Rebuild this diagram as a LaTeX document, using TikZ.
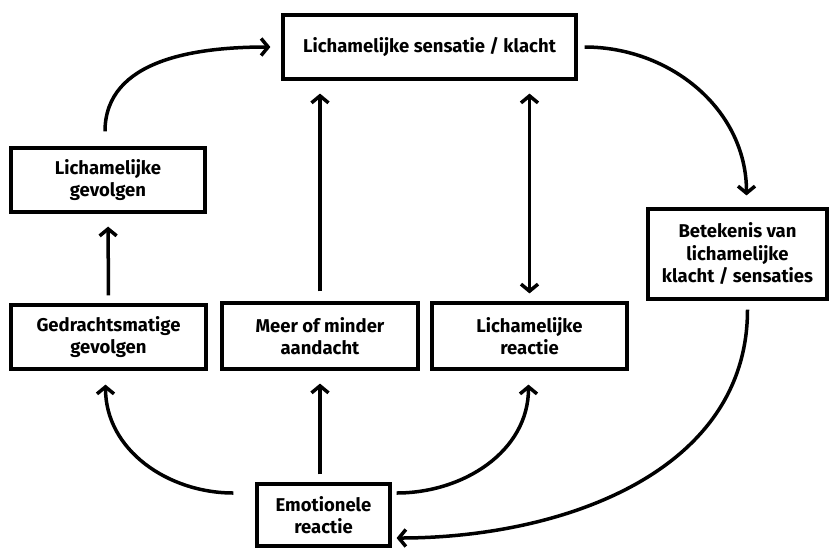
\documentclass[tikz,border=0pt]{standalone}
\usepackage{fontspec}
\setmainfont{Fira Sans Bold}
\usetikzlibrary{arrows.meta}
\begin{document}
\begin{tikzpicture}[x=1pt,y=-1pt,
  box/.style={draw,line width=3.2pt,align=center,inner sep=0pt,
    font=\fontsize{18.5}{22.5}\selectfont},
  tip/.tip={Straight Barb[length=7pt,width=17pt]},
  arr/.style={line width=3.5pt,-tip},
  darr/.style={line width=3.5pt,tip-tip}]
\useasboundingbox (0,0) rectangle (835,547);
\node[box,minimum width=293pt,minimum height=64pt] (top) at (429.5,47) {Lichamelijke sensatie / klacht};
\node[box,minimum width=194pt,minimum height=64pt] (lg) at (108,180) {Lichamelijke\\gevolgen};
\node[box,minimum width=195pt,minimum height=64pt] (gg) at (108.5,337) {Gedrachtsmatige\\gevolgen};
\node[box,minimum width=196pt,minimum height=66pt] (mma) at (320,336) {Meer of minder\\aandacht};
\node[box,minimum width=195pt,minimum height=66pt] (lr) at (529.5,336) {Lichamelijke\\reactie};
\node[box,minimum width=179pt,minimum height=90pt] (bet) at (737.5,254) {Betekenis van\\lichamelijke\\klacht / sensaties};
\node[box,minimum width=133pt,minimum height=62pt] (emo) at (323.5,515) {Emotionele\\reactie};

\draw[arr] ([xshift=-3pt,yshift=15pt]lg.north) to[out=90,in=180] ([xshift=-11pt]top.west);
\draw[arr,shorten <=8pt,shorten >=13pt] (gg.north) -- (lg.south);
\draw[arr,shorten <=10pt,shorten >=13pt] (mma.north) -- (mma.north |- top.south);
\draw[darr,shorten <=8pt,shorten >=13pt] (lr.north) -- (lr.north |- top.south);
\draw[arr] ([xshift=7pt]top.east) to[out=0,in=90] ([xshift=9pt,yshift=12pt]bet.north);
\draw[arr] ([xshift=10pt,yshift=-9pt]bet.south) to[out=-90,in=0] ([xshift=5pt,yshift=-23pt]emo.east);
\draw[arr] ([xshift=-22pt,yshift=22pt]emo.west) to[out=180,in=-90] ([xshift=-3pt,yshift=-14pt]gg.south);
\draw[arr,shorten <=8pt,shorten >=13pt] (mma.south |- emo.north) -- (mma.south);
\draw[arr] ([xshift=5pt,yshift=22pt]emo.east) to[out=0,in=-90] ([xshift=-1pt,yshift=-14pt]lr.south);
\end{tikzpicture}
\end{document}
